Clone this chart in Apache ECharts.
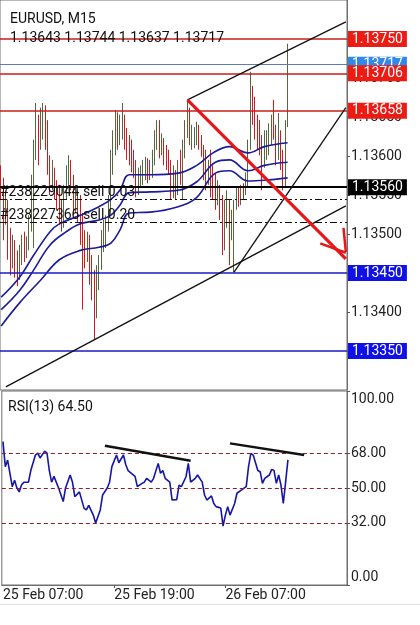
<!DOCTYPE html>
<html>
<head>
<meta charset="utf-8">
<script src="https://cdn.jsdelivr.net/npm/echarts@6/dist/echarts.min.js"></script>
<style>
html,body{margin:0;padding:0;background:#fff;}
#chart{width:420px;height:625px;}
</style>
</head>
<body>
<div id="chart"></div>
<script>
// ---------- DATA ----------
const symbolTitle = 'EURUSD, M15';
const barCount = 149;               // slots on the time axis (chart shifted right)
const timeLabels = ['25 Feb 07:00', '25 Feb 19:00', '26 Feb 07:00'];
const timeLabelIdx = [0, 48, 96];

const open = [
1.13582,1.13569,1.13518,1.13537,1.13492,1.13464,1.13486,1.13460,1.13451,1.13473,
1.13482,1.13477,1.13486,1.13512,1.13556,1.13608,1.13640,1.13621,1.13649,1.13653,
1.13644,1.13588,1.13563,1.13579,1.13556,1.13550,1.13531,1.13515,1.13550,1.13576,
1.13588,1.13569,1.13537,1.13550,1.13544,1.13499,1.13486,1.13479,1.13492,1.13454,
1.13435,1.13409,1.13447,1.13464,1.13492,1.13503,1.13515,1.13533,1.13588,1.13614,
1.13646,1.13627,1.13640,1.13649,1.13621,1.13608,1.13601,1.13595,1.13588,1.13563,
1.13572,1.13576,1.13579,1.13588,1.13582,1.13579,1.13595,1.13621,1.13633,1.13608,
1.13618,1.13597,1.13592,1.13585,1.13554,1.13563,1.13556,1.13585,1.13579,1.13608,
1.13631,1.13656,1.13623,1.13627,1.13631,1.13636,1.13621,1.13610,1.13582,1.13569,
1.13579,1.13576,1.13556,1.13550,1.13554,1.13544,1.13486,1.13515,1.13537,1.13512,
1.13524,1.13537,1.13553,1.13546,1.13556,1.13556,1.13569,1.13612,1.13665,1.13659,
1.13633,1.13621,1.13618,1.13591,1.13608,1.13614,1.13621,1.13633,1.13631,1.13601,
1.13621,1.13595,1.13563,1.13643];
const close = [
1.13569,1.13518,1.13537,1.13492,1.13464,1.13486,1.13460,1.13451,1.13473,1.13482,
1.13477,1.13486,1.13512,1.13556,1.13608,1.13640,1.13621,1.13649,1.13653,1.13644,
1.13588,1.13563,1.13579,1.13556,1.13550,1.13531,1.13515,1.13550,1.13576,1.13588,
1.13569,1.13537,1.13550,1.13544,1.13499,1.13486,1.13479,1.13492,1.13454,1.13435,
1.13409,1.13447,1.13464,1.13492,1.13503,1.13515,1.13533,1.13588,1.13614,1.13646,
1.13627,1.13640,1.13649,1.13621,1.13608,1.13601,1.13595,1.13588,1.13563,1.13572,
1.13576,1.13579,1.13588,1.13582,1.13579,1.13595,1.13621,1.13633,1.13608,1.13618,
1.13597,1.13592,1.13585,1.13554,1.13563,1.13556,1.13585,1.13579,1.13608,1.13631,
1.13656,1.13623,1.13627,1.13631,1.13636,1.13621,1.13610,1.13582,1.13569,1.13579,
1.13576,1.13556,1.13550,1.13554,1.13544,1.13486,1.13515,1.13537,1.13512,1.13524,
1.13537,1.13553,1.13546,1.13556,1.13554,1.13569,1.13612,1.13665,1.13659,1.13633,
1.13621,1.13618,1.13591,1.13608,1.13614,1.13621,1.13633,1.13631,1.13601,1.13621,
1.13595,1.13563,1.13644,1.13717];
const low = [
1.13544,1.13492,1.13512,1.13467,1.13447,1.13456,1.13444,1.13433,1.13441,1.13460,
1.13464,1.13469,1.13479,1.13503,1.13482,1.13595,1.13588,1.13608,1.13621,1.13608,
1.13576,1.13550,1.13556,1.13544,1.13531,1.13512,1.13503,1.13508,1.13544,1.13563,
1.13556,1.13524,1.13528,1.13515,1.13486,1.13403,1.13456,1.13464,1.13435,1.13415,
1.13364,1.13392,1.13428,1.13454,1.13477,1.13482,1.13503,1.13524,1.13576,1.13601,
1.13608,1.13614,1.13621,1.13608,1.13595,1.13588,1.13579,1.13572,1.13547,1.13550,
1.13559,1.13563,1.13569,1.13565,1.13569,1.13572,1.13588,1.13608,1.13597,1.13601,
1.13588,1.13582,1.13576,1.13544,1.13546,1.13544,1.13550,1.13563,1.13544,1.13597,
1.13623,1.13614,1.13608,1.13610,1.13614,1.13608,1.13599,1.13569,1.13556,1.13563,
1.13547,1.13544,1.13531,1.13537,1.13518,1.13473,1.13479,1.13508,1.13460,1.13492,
1.13451,1.13531,1.13535,1.13537,1.13544,1.13550,1.13560,1.13608,1.13640,1.13621,
1.13608,1.13601,1.13556,1.13585,1.13595,1.13601,1.13614,1.13621,1.13588,1.13595,
1.13582,1.13556,1.13559,1.13637];
const high = [
1.13588,1.13572,1.13556,1.13544,1.13508,1.13499,1.13492,1.13479,1.13486,1.13499,
1.13503,1.13497,1.13524,1.13576,1.13621,1.13668,1.13653,1.13662,1.13668,1.13665,
1.13646,1.13601,1.13595,1.13585,1.13569,1.13563,1.13544,1.13563,1.13588,1.13601,
1.13595,1.13576,1.13563,1.13556,1.13550,1.13527,1.13505,1.13503,1.13499,1.13473,
1.13454,1.13460,1.13473,1.13505,1.13518,1.13524,1.13550,1.13608,1.13633,1.13659,
1.13656,1.13653,1.13668,1.13653,1.13636,1.13627,1.13621,1.13608,1.13595,1.13585,
1.13588,1.13595,1.13599,1.13597,1.13595,1.13608,1.13633,1.13646,1.13646,1.13629,
1.13623,1.13614,1.13608,1.13595,1.13588,1.13582,1.13595,1.13608,1.13621,1.13646,
1.13672,1.13662,1.13640,1.13637,1.13644,1.13640,1.13627,1.13614,1.13608,1.13595,
1.13608,1.13588,1.13578,1.13569,1.13563,1.13550,1.13544,1.13556,1.13544,1.13531,
1.13544,1.13560,1.13559,1.13563,1.13565,1.13579,1.13621,1.13708,1.13690,1.13676,
1.13653,1.13646,1.13627,1.13633,1.13633,1.13642,1.13653,1.13672,1.13640,1.13655,
1.13633,1.13608,1.13646,1.13744];

// Envelope lines: [bar index, price]
const envUpper = [[0,1.13419],[8,1.13445],[14,1.13473],[21,1.13503],[25,1.13513],[34,1.13524],[42,1.13535],[47,1.13544],[51,1.13556],[55,1.13576],[64,1.13576],[76,1.13578],[84,1.13588],[91,1.13604],[98,1.13612],[106,1.13604],[113,1.13612],[123,1.13617]];
const envMiddle = [[0,1.13403],[8,1.13428],[14,1.13454],[21,1.13486],[28,1.13503],[34,1.13513],[42,1.13518],[47,1.13524],[51,1.13537],[55,1.13553],[64,1.13554],[76,1.13556],[84,1.13567],[92,1.13592],[98,1.13595],[106,1.13581],[113,1.13588],[123,1.13592]];
const envLower = [[0,1.13382],[8,1.13412],[17,1.13441],[25,1.13467],[34,1.13479],[42,1.13483],[47,1.13488],[51,1.13505],[55,1.13527],[64,1.13528],[76,1.13535],[84,1.13547],[92,1.13578],[98,1.13581],[106,1.13568],[113,1.13569],[123,1.13572]];

// RSI(13): [bar index, value]
const rsi = [[0,73.9],[1,61],[2,64.4],[4,50.7],[5,54],[6,50],[7,48],[8,51.5],[9,53],[11,53],[12,59],[14,67],[15,68],[16,65.5],[18,69],[19,68],[20,59],[21,53],[22,56],[24,50],[26,43],[27,50],[29,56.7],[30,53],[31,45.5],[33,48],[35,39.5],[36,38.7],[37,41],[39,36],[40,32],[42,38.7],[43,46.4],[45,50],[46,53],[47,61],[49,67],[50,63],[52,67],[53,62],[54,59],[57,56],[58,50.7],[60,52.4],[61,53],[62,55],[64,53],[65,55],[67,62.7],[68,57.6],[69,59],[70,55],[72,53],[73,43.8],[75,44],[76,51.5],[77,50.7],[79,55.8],[80,62.7],[81,53],[83,55],[84,56.7],[86,53],[87,46.4],[88,43.8],[90,45.9],[91,42],[92,40.4],[94,39.7],[95,30.4],[96,36],[97,40.4],[98,36],[100,42],[101,47.3],[103,49],[105,50.7],[106,61],[107,67.9],[108,67],[110,59],[111,58.4],[112,52.4],[113,55],[115,56.7],[116,59.6],[117,59],[118,52.4],[119,56.7],[120,51.5],[121,42],[122,53],[123,64.5]];
const rsiLevels = [68, 50, 32];
const rsiTicks = [0, 32, 50, 68, 100];

// Price levels
const redLevels = [1.13750, 1.13706, 1.13658];
const bidLevel = 1.13717;
const stopLevel = 1.13560;
const blueLevels = [1.13450, 1.13350];
const orders = [{ name: '#238229044 sell 0.03', price: 1.13544 }, { name: '#238227366 sell 0.20', price: 1.13515 }];

// Trend lines: [[barIndex, price], [barIndex, price]]
const channelTop = [[80, 1.13672], [148, 1.13772]];
const steepSupport = [[100, 1.13451], [148, 1.13662]];
const longSupport = [[2, 1.13304], [148, 1.13536]];
const redArrow = [[80, 1.13672], [148, 1.13468]];
const arrowHeadA = [[137, 1.13488], [148, 1.13476]];
const arrowHeadB = [[147, 1.13508], [148, 1.13477]];
const rsiDiv1 = [[44, 71.8], [81, 64.1]];
const rsiDiv2 = [[98, 73.0], [130, 67.0]];

// ---------- BUILD ----------
const FONT = 'Roboto';
const cats = [];
for (let i = 0; i < barCount; i++) cats.push(String(i));
const candles = open.map((o, i) => [o, close[i], low[i], high[i]]);
const last = open.length - 1;
const ohlcText = [open[last], high[last], low[last], close[last]].map(v => v.toFixed(5)).join(' ');
const rsiText = 'RSI(13) ' + rsi[rsi.length - 1][1].toFixed(2);

function seg(pair, color, width, type) {
  return [{ coord: pair[0], lineStyle: { color: color, width: width, type: type || 'solid' } }, { coord: pair[1] }];
}
function hLine(v, color, width, box, boxText, type) {
  const item = { yAxis: v, lineStyle: { color: color, width: width, type: type || 'solid' } };
  if (box) {
    item.label = { show: true, position: 'end', distance: 1, formatter: v.toFixed(5),
      backgroundColor: box, color: boxText || '#fff', fontFamily: FONT, fontSize: 14,
      padding: [1, 4, 0, 4], lineHeight: 15 };
  } else {
    item.label = { show: false };
  }
  return item;
}

const mainMarks = [];
mainMarks.push(hLine(bidLevel, '#5b7db0', 1, '#2f88ea'));
redLevels.forEach(v => mainMarks.push(hLine(v, '#c91d1d', 1.5, '#ec1c14')));
mainMarks.push(hLine(stopLevel, '#000', 2, '#000'));
blueLevels.forEach(v => mainMarks.push(hLine(v, '#1a1ac4', 1.5, '#1010e8')));
orders.forEach(o => {
  const it = { yAxis: o.price, lineStyle: { color: '#111', width: 1, type: [7, 3, 2, 3] },
    label: { show: true, position: 'insideStartTop', distance: 0, formatter: o.name,
      color: '#111', fontFamily: FONT, fontSize: 14, padding: [0, 0, 0, 0] } };
  mainMarks.push(it);
});
mainMarks.push(seg(channelTop, '#111', 1.3));
mainMarks.push(seg(steepSupport, '#111', 1.3));
mainMarks.push(seg(longSupport, '#111', 1.3));
mainMarks.push(seg(redArrow, '#e5171b', 3.2));
mainMarks.push(seg(arrowHeadA, '#e5171b', 2.5));
mainMarks.push(seg(arrowHeadB, '#e5171b', 2.5));

const rsiMarks = rsiLevels.map(v => ({ yAxis: v, lineStyle: { color: '#8e1f2a', width: 1, type: [4, 3] }, label: { show: false } }));
rsiMarks.push(seg(rsiDiv1, '#111', 2.5));
rsiMarks.push(seg(rsiDiv2, '#111', 2.5));

const chart = echarts.init(document.getElementById('chart'), null, { renderer: 'canvas' });
chart.setOption({
  animation: false,
  backgroundColor: '#fff',
  textStyle: { fontFamily: FONT },
  title: [
    { text: symbolTitle, left: 5, top: 7, textStyle: { fontFamily: FONT, fontSize: 14, fontWeight: 'normal', color: '#111' } },
    { text: ohlcText, left: 5, top: 26, textStyle: { fontFamily: FONT, fontSize: 14, fontWeight: 'normal', color: '#111' } },
    { text: rsiText, left: 3, top: 395, textStyle: { fontFamily: FONT, fontSize: 14, fontWeight: 'normal', color: '#111' } }
  ],
  grid: [
    { left: 0, right: 73, top: 0, height: 390, show: true, borderColor: '#6f6f6f', borderWidth: 1, backgroundColor: 'transparent' },
    { left: 0, right: 73, top: 391, height: 194, show: true, borderColor: '#6f6f6f', borderWidth: 1, backgroundColor: 'transparent' }
  ],
  xAxis: [
    { type: 'category', gridIndex: 0, data: cats, show: false, boundaryGap: true },
    { type: 'category', gridIndex: 1, data: cats, boundaryGap: true,
      axisLine: { show: true, lineStyle: { color: '#6f6f6f' } },
      axisTick: { show: true, alignWithLabel: true, length: 3, lineStyle: { color: '#555' },
        interval: (idx) => timeLabelIdx.includes(idx) && idx > 0 },
      axisLabel: { show: true, interval: (idx) => timeLabelIdx.includes(idx), margin: 3, align: 'left',
        fontFamily: FONT, fontSize: 14, color: '#222',
        formatter: (v, idx) => { const k = timeLabelIdx.indexOf(Number(v)); return k >= 0 ? timeLabels[k] : ''; } },
      splitLine: { show: false } }
  ],
  yAxis: [
    { type: 'value', gridIndex: 0, position: 'right', min: 1.1330, max: 1.1380, interval: 0.0005,
      axisLine: { show: true, lineStyle: { color: '#6f6f6f' } },
      axisTick: { show: true, length: 3, lineStyle: { color: '#555' } },
      axisLabel: { margin: 4, fontFamily: FONT, fontSize: 14, color: '#222', showMinLabel: false, showMaxLabel: false,
        formatter: v => v.toFixed(5) },
      splitLine: { show: false } },
    { type: 'value', gridIndex: 1, position: 'right', min: 0, max: 100,
      axisLine: { show: true, lineStyle: { color: '#6f6f6f' } },
      axisTick: { show: true, length: 3, customValues: rsiTicks, lineStyle: { color: '#555' } },
      axisLabel: { margin: 4, fontFamily: FONT, fontSize: 14, color: '#222', customValues: rsiTicks,
        formatter: v => v === 100 ? '{t|100.00}' : (v === 0 ? '{b|0.00}' : v.toFixed(2)),
        rich: { t: { fontFamily: FONT, fontSize: 14, color: '#222', padding: [16, 0, 0, 0] },
                b: { fontFamily: FONT, fontSize: 14, color: '#222', padding: [0, 0, 16, 0] } } },
      splitLine: { show: false } }
  ],
  series: [
    { type: 'candlestick', name: 'EURUSD', xAxisIndex: 0, yAxisIndex: 0, data: candles, barWidth: 1.3,
      itemStyle: { color: '#56663f', color0: '#d21a1a', borderColor: '#56663f', borderColor0: '#d21a1a', borderWidth: 1 },
      z: 2,
      markLine: { silent: true, symbol: ['none', 'none'], animation: false, precision: 5, data: mainMarks, z: 5 } },
    { type: 'line', name: 'upper', xAxisIndex: 0, yAxisIndex: 0, data: envUpper, smooth: 0.4, showSymbol: false,
      lineStyle: { color: '#1b1b9c', width: 1.6 }, z: 3 },
    { type: 'line', name: 'middle', xAxisIndex: 0, yAxisIndex: 0, data: envMiddle, smooth: 0.4, showSymbol: false,
      lineStyle: { color: '#1b1b9c', width: 1.6 }, z: 3 },
    { type: 'line', name: 'lower', xAxisIndex: 0, yAxisIndex: 0, data: envLower, smooth: 0.4, showSymbol: false,
      lineStyle: { color: '#1b1b9c', width: 1.6 }, z: 3 },
    { type: 'line', name: 'RSI', xAxisIndex: 1, yAxisIndex: 1, data: rsi, showSymbol: false,
      lineStyle: { color: '#1616a6', width: 1.6 }, z: 3,
      markLine: { silent: true, symbol: ['none', 'none'], animation: false, data: rsiMarks } }
  ],
  graphic: [
    { type: 'line', shape: { x1: 0, y1: 604.5, x2: 420, y2: 604.5 }, style: { stroke: '#e2e2e2', lineWidth: 1 } }
  ]
});
</script>
</body>
</html>
